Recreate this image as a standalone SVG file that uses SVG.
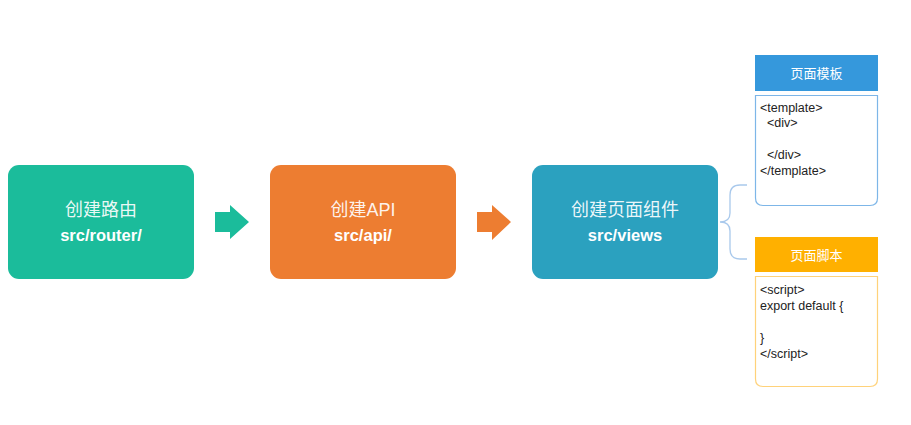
<svg xmlns="http://www.w3.org/2000/svg" width="911" height="425" viewBox="0 0 911 425">
<style>
.cn{font-family:"Liberation Sans","Noto Sans CJK SC",sans-serif;font-size:18px;fill:#ffffff;fill-opacity:0.92;text-anchor:middle}
.path{font-family:"Liberation Sans","Noto Sans CJK SC",sans-serif;font-size:16.5px;font-weight:bold;fill:#ffffff;text-anchor:middle}
.hd{font-family:"Liberation Sans","Noto Sans CJK SC",sans-serif;font-size:13px;fill:#ffffff;text-anchor:middle}
.code{font-family:"Liberation Sans",Arial,sans-serif;font-size:12.5px;fill:#222222;white-space:pre}
</style>
<rect width="911" height="425" fill="#ffffff"/>
<g id="connectors">
<polygon points="215,212 230,212 230,205 249,222 230,239 230,232 215,232" fill="#1bbc9b"/>
<polygon points="477,212 492,212 492,205 511,222 492,240 492,232 477,232" fill="#ed7d31"/>
<path d="M747,185 H740 Q730,185 730,195 V213 Q730,222 720,222 Q730,222 730,231 V249 Q730,259 740,259 H747" fill="none" stroke="#a9c9ec" stroke-width="1.3"/>
</g>
<g id="router">
<rect x="8" y="165" width="186" height="114" rx="11" fill="#1bbc9b"/>
<text class="cn" x="101" y="216">创建路由</text>
<text class="path" x="101" y="241">src/router/</text>
</g>
<g id="api">
<rect x="270" y="165" width="186" height="114" rx="11" fill="#ed7d31"/>
<text class="cn" x="363" y="216">创建API</text>
<text class="path" x="363" y="241">src/api/</text>
</g>
<g id="views">
<rect x="532" y="165" width="186" height="114" rx="11" fill="#2ba1bf"/>
<text class="cn" x="625" y="216">创建页面组件</text>
<text class="path" x="625" y="241">src/views</text>
</g>
<g id="template">
<rect x="755" y="55" width="123" height="36" fill="#3598dc"/>
<text class="hd" x="816.5" y="78">页面模板</text>
<path d="M755.5,95.5 H877.5 V198 Q877.5,205.5 870,205.5 H763 Q755.5,205.5 755.5,198 Z" fill="#ffffff" stroke="#7db6e8" stroke-width="1.2"/>
<text class="code" x="760" y="112">&lt;template&gt;</text>
<text class="code" x="760" y="127">  &lt;div&gt;</text>
<text class="code" x="760" y="159">  &lt;/div&gt;</text>
<text class="code" x="760" y="175">&lt;/template&gt;</text>
</g>
<g id="script">
<rect x="755" y="237" width="123" height="35" fill="#ffb000"/>
<text class="hd" x="816.5" y="260">页面脚本</text>
<path d="M755.5,276.5 H877.5 V379 Q877.5,386.5 870,386.5 H763 Q755.5,386.5 755.5,379 Z" fill="#ffffff" stroke="#ffd27a" stroke-width="1.2"/>
<text class="code" x="760" y="294">&lt;script&gt;</text>
<text class="code" x="760" y="310">export default {</text>
<text class="code" x="760" y="342">}</text>
<text class="code" x="760" y="358">&lt;/script&gt;</text>
</g>
</svg>
